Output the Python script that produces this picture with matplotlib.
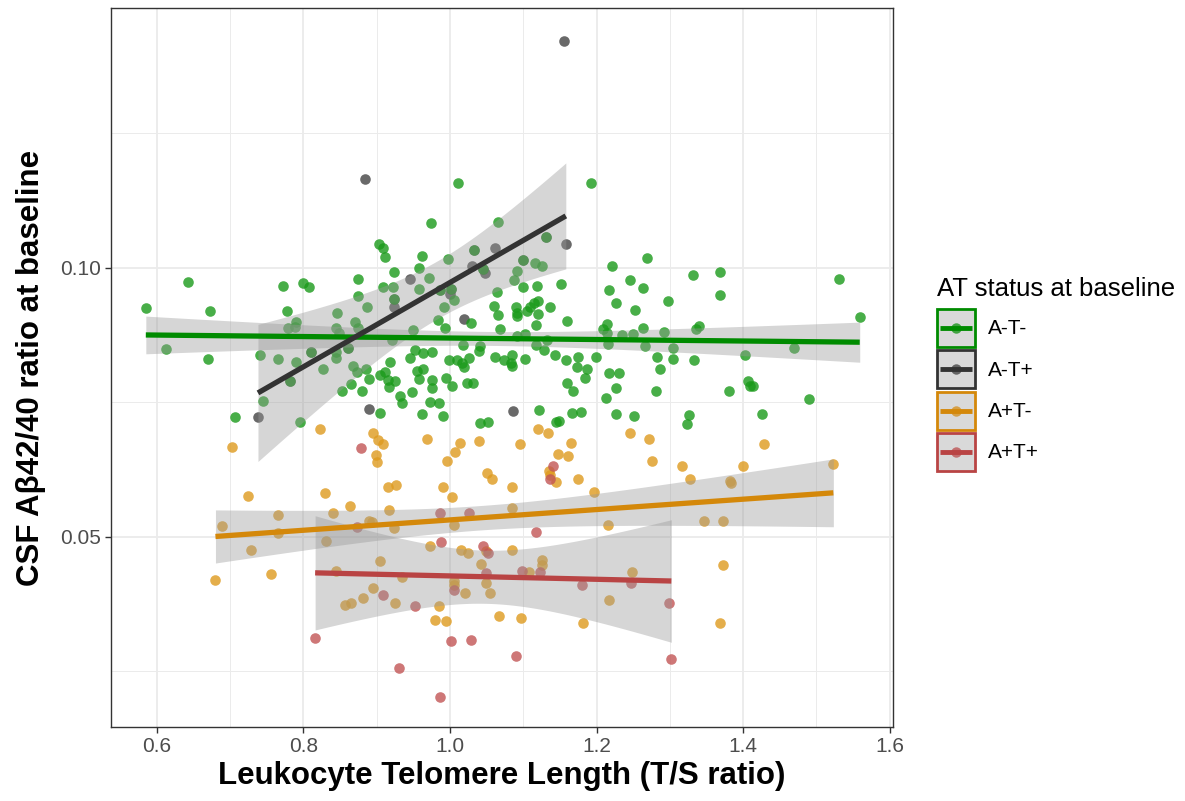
import numpy as np
import matplotlib
matplotlib.use("Agg")
import matplotlib.pyplot as plt
from matplotlib.patches import Rectangle
from matplotlib.lines import Line2D
from matplotlib.legend_handler import HandlerBase
from matplotlib.ticker import FixedLocator

plt.rcParams['font.family'] = ['Liberation Sans', 'DejaVu Sans']

# data (LTL T/S ratio, CSF Abeta42/40)
groups = ['A-T-', 'A-T+', 'A+T-', 'A+T+']
line_colors = ['#008B00', '#333333', '#D4880A', '#B94444']
point_colors = ['#1A9A1A', '#444444', '#DE9A1E', '#C25555']

green_x = [0.643, 0.585, 0.672, 0.612, 0.670, 0.772, 0.800, 0.807, 0.778, 0.790,
           0.779, 0.789, 0.741, 0.765, 0.790, 0.810, 0.827, 0.782, 0.745, 0.706,
           0.796, 0.846, 0.875, 0.875, 0.887, 0.871, 0.874, 0.845, 0.849, 0.861,
           0.845, 0.844, 0.867, 0.873, 0.885, 0.889, 0.865, 0.852, 0.880,
           1.011, 1.192, 0.974, 1.065, 1.131, 0.903, 0.909, 0.912, 0.962, 0.923,
           0.958, 0.971, 0.997, 1.033, 0.909, 0.922, 0.924, 0.958, 0.986, 1.002,
           1.005, 0.992, 1.045, 1.099, 1.116, 1.126, 1.091, 1.087, 1.100, 1.119,
           1.151, 1.064, 1.060, 1.065, 1.068, 1.090, 1.091, 1.091, 1.105, 1.109,
           1.114, 1.120, 1.120, 1.137, 1.118, 1.160, 1.028, 0.984, 0.993, 0.950,
           0.921, 1.092, 1.102, 1.133, 1.118, 1.128, 1.143, 1.018, 1.041, 1.039,
           0.952, 0.963, 0.975, 0.945, 0.998, 1.009, 1.016, 1.019, 1.026, 1.061,
           1.073, 1.084, 1.083, 1.084, 1.103, 1.158, 1.175, 1.173, 1.187, 1.184,
           1.199, 0.918, 0.955, 0.963, 0.958, 0.976, 0.976, 0.905, 0.912, 0.916,
           0.917, 0.925, 0.995, 1.003, 1.023, 1.031, 0.948, 0.932, 0.935, 0.973,
           0.985, 0.962, 0.990, 0.905, 1.121, 1.041, 1.052, 1.145, 1.149, 1.166,
           1.179, 1.160, 1.168, 1.221, 1.217, 1.226, 1.245, 1.252, 1.214, 1.209,
           1.214, 1.215, 1.235, 1.250, 1.217, 1.231, 1.226, 1.213, 1.227, 1.251,
           1.269, 1.263, 1.331, 1.369, 1.368, 1.297, 1.263, 1.292, 1.336, 1.340,
           1.266, 1.304, 1.304, 1.282, 1.287, 1.333, 1.403, 1.469, 1.531, 1.559,
           1.406, 1.409, 1.413, 1.381, 1.281, 1.490, 1.326, 1.324, 1.425]
green_y = [0.0974, 0.0925, 0.0920, 0.0850, 0.0830, 0.0967, 0.0972, 0.0964, 0.0920, 0.0900,
           0.0888, 0.0891, 0.0838, 0.0831, 0.0826, 0.0843, 0.0812, 0.0789, 0.0752, 0.0723,
           0.0713, 0.0916, 0.0979, 0.0948, 0.0927, 0.0899, 0.0888, 0.0889, 0.0879, 0.0852,
           0.0844, 0.0832, 0.0818, 0.0807, 0.0812, 0.0793, 0.0785, 0.0771, 0.0772,
           0.1157, 0.1158, 0.1083, 0.1086, 0.1058, 0.1044, 0.1037, 0.1021, 0.1023, 0.0992,
           0.0999, 0.0981, 0.1016, 0.1034, 0.0964, 0.0964, 0.0943, 0.0960, 0.0958, 0.0960,
           0.0940, 0.0928, 0.0998, 0.1014, 0.1009, 0.1003, 0.0994, 0.0978, 0.0965, 0.0967,
           0.0971, 0.0955, 0.0930, 0.0912, 0.0886, 0.0927, 0.0916, 0.0910, 0.0919, 0.0928,
           0.0935, 0.0938, 0.0915, 0.0927, 0.0894, 0.0902, 0.0897, 0.0904, 0.0889, 0.0885,
           0.0866, 0.0873, 0.0877, 0.0866, 0.0857, 0.0848, 0.0838, 0.0857, 0.0854, 0.0845,
           0.0848, 0.0841, 0.0843, 0.0832, 0.0828, 0.0828, 0.0823, 0.0815, 0.0832, 0.0834,
           0.0829, 0.0838, 0.0823, 0.0818, 0.0830, 0.0828, 0.0835, 0.0815, 0.0813, 0.0795,
           0.0834, 0.0826, 0.0809, 0.0813, 0.0793, 0.0792, 0.0776, 0.0801, 0.0807, 0.0792,
           0.0779, 0.0790, 0.0796, 0.0780, 0.0787, 0.0787, 0.0770, 0.0762, 0.0748, 0.0751,
           0.0748, 0.0728, 0.0725, 0.0731, 0.0735, 0.0711, 0.0714, 0.0714, 0.0715, 0.0731,
           0.0733, 0.0787, 0.0772, 0.1004, 0.0958, 0.0935, 0.0977, 0.0921, 0.0896, 0.0887,
           0.0879, 0.0858, 0.0876, 0.0877, 0.0805, 0.0805, 0.0776, 0.0759, 0.0728, 0.0725,
           0.1018, 0.0962, 0.0986, 0.0993, 0.0949, 0.0939, 0.0888, 0.0881, 0.0886, 0.0892,
           0.0855, 0.0851, 0.0830, 0.0834, 0.0812, 0.0828, 0.0838, 0.0852, 0.0980, 0.0909,
           0.0790, 0.0780, 0.0780, 0.0772, 0.0771, 0.0756, 0.0727, 0.0710, 0.0728]

# visible A-T+ points, then the ones sitting under A-T- points inside the grey band
black_x = [0.884, 0.738, 0.889, 1.158, 0.945, 1.000, 0.923, 1.030, 1.048, 1.062,
           1.019, 1.086, 1.155,
           0.782, 0.810, 0.861, 0.924, 0.986, 1.002, 1.045, 1.033, 1.131, 1.099]
black_y = [0.1165, 0.0723, 0.0738, 0.1045, 0.0979, 0.0951, 0.0927, 0.1004, 0.0991, 0.1037,
           0.0905, 0.0734, 0.1422,
           0.0789, 0.0843, 0.0852, 0.0943, 0.0958, 0.0960, 0.0998, 0.1034, 0.1058, 0.1014]

orange_x = [0.823, 0.703, 0.724, 0.829, 0.841, 0.864, 0.765, 0.689, 0.765, 0.728,
            0.756, 0.680, 0.831, 0.890, 0.894, 0.844, 0.895, 0.857, 0.865, 0.881,
            0.895, 0.902, 0.908, 0.899, 0.900, 0.969, 1.014, 1.007, 0.996, 1.040,
            1.095, 1.120, 1.134, 1.165, 1.148, 1.161, 1.246, 0.916, 0.927, 0.990,
            1.003, 1.050, 1.057, 1.085, 1.135, 1.136, 1.145, 1.175, 1.196, 0.917,
            0.923, 1.085, 1.005, 1.215, 0.973, 1.015, 1.024, 1.049, 1.084, 0.905,
            1.042, 1.126, 1.125, 1.108, 0.935, 1.005, 1.006, 1.049, 1.020, 1.055,
            0.925, 0.985, 1.248, 1.217, 0.979, 0.995, 1.067, 1.097, 1.182,
            1.272, 1.428, 1.275, 1.317, 1.400, 1.328, 1.382, 1.383, 1.523, 1.346,
            1.373, 1.372, 1.368]
orange_y = [0.0701, 0.0668, 0.0576, 0.0581, 0.0545, 0.0557, 0.0540, 0.0520, 0.0507, 0.0475,
            0.0432, 0.0420, 0.0492, 0.0529, 0.0527, 0.0437, 0.0405, 0.0373, 0.0377, 0.0386,
            0.0694, 0.0680, 0.0672, 0.0652, 0.0640, 0.0682, 0.0675, 0.0657, 0.0642, 0.0678,
            0.0672, 0.0701, 0.0693, 0.0674, 0.0654, 0.0651, 0.0693, 0.0592, 0.0596, 0.0593,
            0.0575, 0.0619, 0.0608, 0.0592, 0.0623, 0.0615, 0.0603, 0.0608, 0.0583, 0.0550,
            0.0516, 0.0553, 0.0523, 0.0523, 0.0484, 0.0475, 0.0471, 0.0474, 0.0476, 0.0455,
            0.0450, 0.0458, 0.0447, 0.0435, 0.0425, 0.0419, 0.0410, 0.0414, 0.0396, 0.0396,
            0.0377, 0.0372, 0.0435, 0.0383, 0.0346, 0.0343, 0.0353, 0.0349, 0.0340,
            0.0682, 0.0673, 0.0642, 0.0632, 0.0631, 0.0608, 0.0604, 0.0600, 0.0636, 0.0529,
            0.0530, 0.0447, 0.0340]

red_x = [0.878, 0.873, 0.816, 1.140, 1.136, 0.986, 1.026, 1.117, 0.988, 1.045,
         1.052, 1.098, 1.123, 1.049, 1.005, 0.908, 0.952, 1.180, 1.247, 1.001,
         1.028, 1.090, 0.931, 0.986, 1.299, 1.302]
red_y = [0.0666, 0.0518, 0.0313, 0.0632, 0.0607, 0.0544, 0.0544, 0.0509, 0.0491, 0.0483,
         0.0471, 0.0437, 0.0435, 0.0433, 0.0402, 0.0393, 0.0372, 0.0410, 0.0414, 0.0306,
         0.0309, 0.0278, 0.0257, 0.0203, 0.0377, 0.0273]

xs = [green_x, black_x, orange_x, red_x]
ys = [green_y, black_y, orange_y, red_y]


def t975(df):
    # Cornish-Fisher approximation of the 97.5% t quantile
    z = 1.959964
    g1 = (z**3 + z) / 4
    g2 = (5 * z**5 + 16 * z**3 + 3 * z) / 96
    g3 = (3 * z**7 + 19 * z**5 + 17 * z**3 - 15 * z) / 384
    return z + g1 / df + g2 / df**2 + g3 / df**3


def lm_band(x, y, n_grid=80):
    x = np.asarray(x)
    y = np.asarray(y)
    n = len(x)
    b, a = np.polyfit(x, y, 1)
    resid = y - (a + b * x)
    s = np.sqrt(np.sum(resid**2) / (n - 2))
    sxx = np.sum((x - x.mean())**2)
    grid = np.linspace(x.min(), x.max(), n_grid)
    fit = a + b * grid
    se = s * np.sqrt(1 / n + (grid - x.mean())**2 / sxx)
    t = t975(n - 2)
    return grid, fit, fit - t * se, fit + t * se


fig = plt.figure(figsize=(11.85, 8.01), dpi=100)
ax = fig.add_axes([111 / 1185, 74 / 801, 782 / 1185, 719 / 801])

# A-T+ first so the A-T- points cover the hidden ones
for i in [1, 0, 2, 3]:
    ax.scatter(xs[i], ys[i], s=58, color=point_colors[i], alpha=0.8, linewidths=0, zorder=2)

for x, y, c in zip(xs, ys, line_colors):
    g, f, lo, hi = lm_band(x, y)
    ax.fill_between(g, lo, hi, color='#999999', alpha=0.4, linewidth=0, zorder=3)
    ax.plot(g, f, color=c, lw=3.8, solid_capstyle='butt', zorder=4)

ax.set_xlim(0.5375, 1.6044)
ax.set_ylim(0.01468, 0.1483)
ax.xaxis.set_major_locator(FixedLocator([0.6, 0.8, 1.0, 1.2, 1.4, 1.6]))
ax.xaxis.set_minor_locator(FixedLocator([0.7, 0.9, 1.1, 1.3, 1.5]))
ax.yaxis.set_major_locator(FixedLocator([0.05, 0.10]))
ax.yaxis.set_minor_locator(FixedLocator([0.025, 0.075, 0.125]))
ax.set_xticklabels(['0.6', '0.8', '1.0', '1.2', '1.4', '1.6'])
ax.set_yticklabels(['0.05', '0.10'])

ax.grid(which='major', color='#EBEBEB', lw=1.3, zorder=0)
ax.grid(which='minor', color='#EBEBEB', lw=0.7, zorder=0)
ax.set_axisbelow(True)
ax.tick_params(which='major', length=4, width=1, color='#333333',
               labelsize=15, labelcolor='#4D4D4D', pad=3)
ax.tick_params(which='minor', length=0)
for sp in ax.spines.values():
    sp.set_color('#333333')
    sp.set_linewidth(1.0)

ax.set_xlabel('Leukocyte Telomere Length (T/S ratio)', fontsize=22.5, fontweight='bold')
ax.set_ylabel('CSF A\u03b242/40 ratio at baseline', fontsize=22.5, fontweight='bold')
ax.xaxis.set_label_coords(0.5, -0.047)
ax.yaxis.set_label_coords(-0.083, 0.5)


class KeyHandler(HandlerBase):
    def __init__(self, color):
        super().__init__()
        self.color = color

    def create_artists(self, legend, orig_handle, xdescent, ydescent, width, height, fontsize, trans):
        x0, y0 = -xdescent, -ydescent
        box = Rectangle((x0, y0), width, height, facecolor='#D9D9D9',
                        edgecolor=self.color, lw=2, transform=trans)
        ln = Line2D([x0 + 0.08 * width, x0 + 0.92 * width], [y0 + height / 2] * 2,
                    color=self.color, lw=3.5, solid_capstyle='butt', transform=trans)
        dot = Line2D([x0 + width / 2], [y0 + height / 2], marker='o', ms=7.5, lw=0,
                     color=self.color, alpha=0.7, markeredgewidth=0, transform=trans)
        return [box, ln, dot]


handles = [Line2D([], [], color=c) for c in line_colors]
hmap = {h: KeyHandler(c) for h, c in zip(handles, line_colors)}
leg = fig.legend(handles, groups, handler_map=hmap, loc='upper left',
                 bbox_to_anchor=(922 / 1185, 1 - 262 / 801), frameon=False,
                 title='AT status at baseline', title_fontsize=18.5, fontsize=15,
                 handlelength=1.85, handleheight=2.43, labelspacing=0.16,
                 handletextpad=0.6, borderpad=0.2)
leg._legend_box.align = 'left'
leg._legend_box.sep = 6

fig.savefig('out.png', dpi=100)
